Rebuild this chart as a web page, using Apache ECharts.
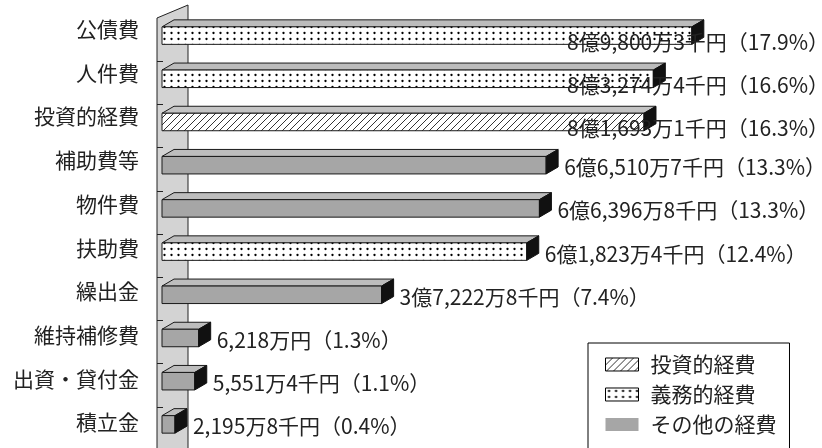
<!DOCTYPE html>
<html>
<head>
<meta charset="UTF-8">
<title></title>
<script src="https://cdn.jsdelivr.net/npm/echarts@6/dist/echarts.min.js"></script>
<style>
html, body { margin: 0; padding: 0; background: #fff; }
#chart { width: 822px; height: 448px; }
</style>
</head>
<body>
<div id="chart"></div>
<script>
// 歳出（性質別） 単位：万円
var categories = ['公債費', '人件費', '投資的経費', '補助費等', '物件費', '扶助費', '繰出金', '維持補修費', '出資・貸付金', '積立金'];
var amounts = [89800.3, 83274.4, 81693.1, 65107, 63968, 61823.4, 37222.8, 6218, 5551.4, 2195.8];
var amountLabels = ['8億9,800万3千円', '8億3,274万4千円', '8億1,693万1千円', '6億6,510万7千円', '6億6,396万8千円',
    '6億1,823万4千円', '3億7,222万8千円', '6,218万円', '5,551万4千円', '2,195万8千円'];
var shares = ['17.9%', '16.6%', '16.3%', '13.3%', '13.3%', '12.4%', '7.4%', '1.3%', '1.1%', '0.4%'];
var groupOf = ['義務的経費', '義務的経費', '投資的経費', 'その他の経費', 'その他の経費', '義務的経費',
    'その他の経費', 'その他の経費', 'その他の経費', 'その他の経費'];
var groupNames = ['投資的経費', '義務的経費', 'その他の経費'];

var FONT = '"Noto Sans CJK JP", "Noto Sans", sans-serif';
var LABEL_SIZE = 21;

// 塗りパターン
function makePattern(kind) {
    var c = document.createElement('canvas');
    var g;
    if (kind === 'dots') {
        c.width = 7; c.height = 6;
        g = c.getContext('2d');
        g.fillStyle = '#fff'; g.fillRect(0, 0, 7, 6);
        g.fillStyle = '#000';
        g.beginPath(); g.arc(3.5, 3, 1.15, 0, Math.PI * 2); g.fill();
    } else {
        c.width = 7; c.height = 7;
        g = c.getContext('2d');
        g.fillStyle = '#fff'; g.fillRect(0, 0, 7, 7);
        g.strokeStyle = '#000'; g.lineWidth = 0.8;
        g.beginPath();
        g.moveTo(0, 7); g.lineTo(7, 0);
        g.moveTo(-1, 1); g.lineTo(1, -1);
        g.moveTo(6, 8); g.lineTo(8, 6);
        g.stroke();
    }
    return { image: c, repeat: 'repeat' };
}

var styles = {
    '投資的経費': { front: makePattern('hatch'), top: '#c4c4c4' },
    '義務的経費': { front: makePattern('dots'), top: '#bcbcbc' },
    'その他の経費': { front: '#a6a6a6', top: '#bdbdbd' }
};

var measureCtx = document.createElement('canvas').getContext('2d');
measureCtx.font = LABEL_SIZE + 'px ' + FONT;

function renderBar(params, api) {
    var cat = api.value(0);
    var val = api.value(1);
    var start = api.coord([0, cat]);
    var end = api.coord([val, cat]);
    var band = api.size([0, 1])[1];
    var h = band * 0.405;
    var dx = 12, dy = 7;
    var x0 = start[0], x1 = end[0];
    var yT = end[1] - h / 2, yB = end[1] + h / 2;
    var st = styles[groupOf[cat]];

    // 末尾の全角括弧は右側が空白なので、その分だけはみ出しを許す
    var text = amountLabels[cat] + '（' + shares[cat] + '）';
    var w = measureCtx.measureText(text).width;
    var lx = x1 + dx + 6, ty = end[1] + 2, align = 'left';
    var limit = api.getWidth() + 7;
    if (lx + w > limit) {
        lx = limit; align = 'right'; ty = end[1] + 6;
    }

    return {
        type: 'group',
        children: [
            {
                type: 'polygon',
                shape: { points: [[x0, yT], [x0 + dx, yT - dy], [x1 + dx, yT - dy], [x1, yT]] },
                style: { fill: st.top, stroke: '#1a1a1a', lineWidth: 1 }
            },
            {
                type: 'rect',
                shape: { x: x0, y: yT, width: x1 - x0, height: h },
                style: { fill: st.front, stroke: '#1a1a1a', lineWidth: 1 }
            },
            {
                type: 'polygon',
                shape: { points: [[x1, yT], [x1 + dx, yT - dy], [x1 + dx, yB - dy], [x1, yB]] },
                style: { fill: '#111', stroke: '#111', lineWidth: 1 }
            },
            {
                type: 'text',
                style: {
                    x: lx, y: ty, text: text, align: align, verticalAlign: 'middle',
                    font: LABEL_SIZE + 'px ' + FONT, fill: '#222'
                }
            }
        ]
    };
}

// 奥の壁と目盛り
function renderWall(params, api) {
    var cs = params.coordSys;
    var band = api.size([0, 1])[1];
    var l = cs.x - 5, r = cs.x + 26, bottom = api.getHeight() + 10;
    var children = [{
        type: 'polygon',
        shape: { points: [[l, cs.y + 4], [r, cs.y - 9], [r, bottom], [l, bottom]] },
        style: { fill: '#d3d3d3', stroke: '#222', lineWidth: 1 }
    }];
    for (var k = 1; k < categories.length; k++) {
        var y = Math.round(cs.y + k * band + 3.7) + 0.5;
        children.push({
            type: 'line',
            shape: { x1: l, y1: y, x2: l + 6, y2: y },
            style: { stroke: '#222', lineWidth: 1 }
        });
    }
    return { type: 'group', children: children };
}

var series = [{
    name: 'wall',
    type: 'custom',
    renderItem: renderWall,
    data: [[0, 0]],
    encode: { x: 1, y: 0 },
    silent: true,
    z: 1
}];

groupNames.forEach(function (g) {
    var data = [];
    for (var i = 0; i < categories.length; i++) {
        if (groupOf[i] === g) data.push([i, amounts[i]]);
    }
    series.push({
        name: g,
        type: 'custom',
        renderItem: renderBar,
        data: data,
        encode: { x: 1, y: 0 },
        itemStyle: { color: styles[g].front },
        z: 2
    });
});

// 項目名を少しずつ上へずらす
var rich = {};
categories.forEach(function (c, i) {
    var shift = 2 + (categories.length - 1 - i) * 0.48;
    rich['l' + i] = { fontSize: 21, color: '#222', fontFamily: FONT, padding: [0, 0, Math.round(shift * 2), 0] };
});

var chart = echarts.init(document.getElementById('chart'));
chart.setOption({
    animation: false,
    backgroundColor: '#fff',
    grid: { left: 162, top: 14, width: 590, height: 432 },
    xAxis: { type: 'value', min: 0, max: 100000, show: false },
    yAxis: {
        type: 'category',
        data: categories,
        inverse: true,
        axisLine: { show: false },
        axisTick: { show: false },
        axisLabel: {
            margin: 23,
            formatter: function (v, i) { return '{l' + i + '|' + v + '}'; },
            rich: rich
        }
    },
    legend: {
        orient: 'vertical',
        left: 588, top: 343, height: 140,
        padding: [11, 13, 30, 17],
        borderColor: '#000', borderWidth: 1,
        itemWidth: 33, itemHeight: 13, itemGap: 9,
        icon: 'rect',
        textStyle: { fontSize: 21, color: '#222', fontFamily: FONT, padding: [0, 0, 0, 7] },
        data: [
            { name: '投資的経費', itemStyle: { borderColor: '#000', borderWidth: 1 } },
            { name: '義務的経費', itemStyle: { borderColor: '#000', borderWidth: 1 } },
            { name: 'その他の経費' }
        ]
    },
    series: series
});
</script>
</body>
</html>
